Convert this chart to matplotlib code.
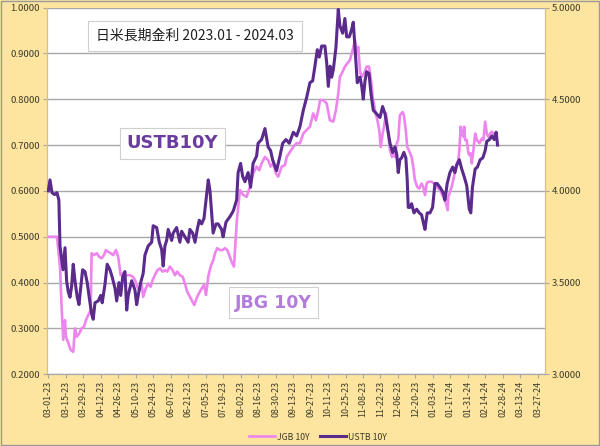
import matplotlib
matplotlib.use('Agg')
import matplotlib.pyplot as plt
import matplotlib.dates as mdates
import numpy as np
import datetime as dt
from matplotlib.patches import Rectangle

plt.rcParams['font.family'] = ['Noto Sans CJK JP', 'DejaVu Sans']

# ---------------- data ----------------
start_date = dt.date(2023, 3, 1)

# days since 2023-03-01, USTB 10Y yield (%)
ustb_days = [0, 1.4, 3, 5, 7, 8.5, 9.4, 11.8, 13.4, 14.7,
             16, 17.4, 18.7, 20, 21.4, 23.2, 24.6, 27.5, 29.4, 31.2,
             32.8, 34.7, 36, 37.4, 40, 42, 43.2, 45.4, 47.2, 49.4,
             51.2, 53.4, 54.8, 56.6, 58, 59.6, 61.4, 62.8, 64, 66.8,
             69.4, 70.8, 72, 74, 76, 77.4, 80, 82.8, 84, 86.8,
             88.9, 90.8, 92, 93.4, 94.8, 96, 98.8, 100, 102.8, 105.4,
             106.8, 109.4, 112, 113.4, 115.6, 117.5, 119.3, 120.9, 122.8, 124.7,
             126.3, 128.1, 129.5, 132, 134.3, 136, 138.8, 140, 142.3, 145.5,
             148.1, 150.8, 152, 154, 155.6, 157.5, 160, 162, 164, 166.8,
             168, 170.8, 173.5, 176, 178, 179.6, 182.8, 185.5, 187.7, 190.3,
             193, 196.2, 198.9, 201.5, 204.2, 206.9, 209.5, 211.7, 213.5, 215.4,
             217, 218.9, 221.5, 222.9, 224.2, 225.6, 226.9, 228.2, 230.3, 232.2,
             233.5, 235.7, 237.5, 238.9, 241, 242.9, 244.2, 245.6, 247.4, 249.6,
             251, 252.2, 253.6, 254.9, 256.8, 258.4, 260.2, 262.9, 265.6, 267.7,
             269.6, 271.4, 273.6, 275.7, 277.6, 279, 280.2, 281.5, 282.9, 284.7,
             286.3, 287.4, 288.2, 289.6, 290.9, 292.8, 295, 297, 298.9, 300.2,
             301.6, 303.4, 305.6, 307.7, 309.6, 311.4, 313.6, 316.2, 317.6, 319.4,
             321.6, 323.8, 325.6, 327, 329.1, 331, 332.9, 335, 337.1, 338.3,
             339.6, 341.8, 343.6, 345.8, 347.9, 349.8, 351.1, 353.2, 355.2, 357, 358.6, 359.7]
ustb_vals = [4.00, 4.06, 3.99, 3.98, 3.99, 3.95, 3.70, 3.57, 3.69, 3.51,
             3.45, 3.42, 3.48, 3.60, 3.51, 3.42, 3.38, 3.57, 3.56, 3.50,
             3.42, 3.33, 3.30, 3.39, 3.40, 3.43, 3.39, 3.49, 3.60, 3.57,
             3.53, 3.47, 3.40, 3.50, 3.43, 3.53, 3.56, 3.35, 3.43, 3.51,
             3.46, 3.38, 3.43, 3.50, 3.55, 3.65, 3.70, 3.72, 3.81, 3.80,
             3.72, 3.68, 3.59, 3.70, 3.73, 3.79, 3.73, 3.77, 3.80, 3.72,
             3.78, 3.75, 3.72, 3.79, 3.77, 3.72, 3.79, 3.84, 3.82, 3.85,
             3.95, 4.06, 4.00, 3.77, 3.82, 3.82, 3.79, 3.75, 3.83, 3.86,
             3.89, 3.95, 4.10, 4.15, 4.08, 4.05, 4.10, 4.02, 4.15, 4.19,
             4.26, 4.28, 4.34, 4.24, 4.22, 4.17, 4.11, 4.19, 4.26, 4.28,
             4.26, 4.32, 4.30, 4.35, 4.44, 4.51, 4.59, 4.60, 4.68, 4.77,
             4.73, 4.79, 4.79, 4.70, 4.57, 4.68, 4.62, 4.66, 4.78, 4.99,
             4.90, 4.86, 4.94, 4.84, 4.84, 4.88, 4.92, 4.78, 4.59, 4.62,
             4.57, 4.50, 4.60, 4.65, 4.64, 4.53, 4.44, 4.42, 4.40, 4.46,
             4.42, 4.35, 4.26, 4.21, 4.24, 4.20, 4.10, 4.17, 4.18, 4.21,
             4.18, 4.06, 3.91, 3.91, 3.93, 3.88, 3.90, 3.88, 3.87, 3.83,
             3.79, 3.88, 3.88, 3.91, 4.04, 4.04, 4.02, 3.99, 3.95, 4.04,
             4.10, 4.13, 4.10, 4.14, 4.17, 4.12, 4.08, 4.03, 3.90, 3.88,
             4.02, 4.12, 4.13, 4.17, 4.18, 4.22, 4.27, 4.28, 4.30, 4.28, 4.32, 4.25]

# days since 2023-03-01, JGB 10Y yield (%)
jgb_days = [0, 7, 9.4, 10.7, 12, 13.4, 14.2, 16, 18, 20,
            21.4, 22.7, 24.8, 26.7, 28.6, 30.2, 32, 34, 34.7, 36.6,
            38.8, 40.8, 42.8, 44.6, 46.2, 48, 50, 52, 54.2, 56,
            58, 59.6, 61.4, 63.3, 65.4, 67.6, 69.4, 71.3, 72.9, 74.8,
            76, 78, 80, 82, 83.6, 85.4, 87.3, 89.4, 91.6, 93.4,
            95.3, 97.4, 99.6, 101.4, 103.3, 105.4, 107.6, 109.4, 111.3, 113.4,
            115.6, 116.9, 118.8, 120.7, 122.8, 124.7, 126.3, 128.1, 130, 132.1,
            133.5, 135.3, 137.5, 139.6, 141.5, 143.3, 144.9, 146.8, 148.7, 150.3,
            151, 152.1, 153.5, 156.1, 158.8, 161.5, 164.1, 166.8, 168.9, 170.8,
            173.5, 176.1, 178, 180.1, 182.3, 184.1, 186.9, 189.5, 190.9, 193.5,
            196.2, 198.9, 201.5, 204.2, 206.9, 209.5, 212.1, 214.3, 216.2, 217.6,
            220.2, 222.9, 225.5, 228.2, 230.3, 232.2, 233.5, 235.7, 237.5, 239.4,
            241.5, 243.7, 245.6, 246.9, 248.2, 249.6, 251, 252.8, 254.9, 256.8,
            258.4, 259.7, 261.6, 263.5, 265, 266.2, 267.7, 268.8, 270.4, 272.2,
            273.6, 275.2, 276.2, 277.6, 279, 280.2, 281.5, 283.7, 284.7, 286.2,
            287.4, 288.7, 290.9, 292.2, 293.5, 295.4, 297, 298.9, 300.2, 301.6,
            303, 304.3, 307, 308.8, 311, 312.2, 313.6, 316.2, 318.4, 319.8,
            320.3, 323, 324.8, 327, 328.3, 329.1, 330.2, 331, 332.4, 333,
            333.7, 335, 336.4, 337.2, 338.3, 339.1, 340.4, 341.8, 343.1, 345.2,
            347.1, 348.4, 349.8, 351.1, 352.3, 353.7, 355, 356.3, 359]
jgb_vals = [0.500, 0.500, 0.435, 0.347, 0.275, 0.318, 0.282, 0.268, 0.253, 0.249,
            0.300, 0.282, 0.289, 0.300, 0.304, 0.318, 0.329, 0.340, 0.464, 0.460,
            0.464, 0.456, 0.453, 0.460, 0.471, 0.467, 0.464, 0.460, 0.471, 0.456,
            0.416, 0.420, 0.416, 0.416, 0.416, 0.413, 0.406, 0.391, 0.384, 0.395,
            0.369, 0.387, 0.398, 0.391, 0.406, 0.416, 0.427, 0.431, 0.424, 0.427,
            0.424, 0.435, 0.427, 0.416, 0.424, 0.416, 0.413, 0.398, 0.380, 0.369,
            0.358, 0.351, 0.366, 0.377, 0.387, 0.395, 0.373, 0.413, 0.435, 0.449,
            0.464, 0.475, 0.471, 0.471, 0.475, 0.471, 0.460, 0.445, 0.435, 0.507,
            0.536, 0.565, 0.602, 0.591, 0.587, 0.609, 0.638, 0.653, 0.645, 0.660,
            0.674, 0.667, 0.653, 0.660, 0.638, 0.631, 0.653, 0.656, 0.674, 0.685,
            0.696, 0.704, 0.704, 0.725, 0.733, 0.740, 0.769, 0.754, 0.776, 0.798,
            0.798, 0.791, 0.754, 0.751, 0.776, 0.813, 0.849, 0.860, 0.871, 0.878,
            0.885, 0.907, 0.929, 0.900, 0.914, 0.860, 0.849, 0.856, 0.871, 0.871,
            0.842, 0.805, 0.776, 0.754, 0.733, 0.696, 0.725, 0.740, 0.769, 0.725,
            0.689, 0.674, 0.689, 0.674, 0.704, 0.711, 0.765, 0.772, 0.765, 0.733,
            0.696, 0.689, 0.674, 0.653, 0.624, 0.609, 0.605, 0.616, 0.609, 0.591,
            0.616, 0.620, 0.620, 0.616, 0.609, 0.605, 0.602, 0.587, 0.573, 0.558,
            0.587, 0.609, 0.631, 0.660, 0.667, 0.689, 0.740, 0.725, 0.718, 0.740,
            0.711, 0.711, 0.682, 0.678, 0.682, 0.660, 0.689, 0.725, 0.711, 0.704,
            0.714, 0.711, 0.751, 0.725, 0.718, 0.725, 0.729, 0.725, 0.725]

left_ticks = [0.2, 0.3, 0.4, 0.5, 0.6, 0.7, 0.8, 0.9, 1.0]
right_ticks = [3.0, 3.5, 4.0, 4.5, 5.0]
n_date_ticks = 29          # every 14 days, 03-01-23 .. 03-27-24
title_text = '日米長期金利 2023.01 - 2024.03'
series_names = ['JGB 10Y', 'USTB 10Y']
# --------------------------------------

W, H = 600, 446
bg = '#FDE49F'
pink = '#EE84EE'
dark = '#5A2A8C'
txt = '#3c3c28'

base = mdates.date2num(start_date)
ustb_x = base + np.array(ustb_days)
jgb_x = base + np.array(jgb_days)

fig = plt.figure(figsize=(W / 100, H / 100), dpi=100)
fig.patch.set_facecolor(bg)
fig.patches.append(Rectangle((0.002, 0.002), 0.996, 0.996, transform=fig.transFigure,
                             fill=False, ec='#9a9a9a', lw=1.0))

ax_l, ax_r, ax_t, ax_b = 47, 545, 7.5, 374.3
ax = fig.add_axes([ax_l / W, 1 - ax_b / H, (ax_r - ax_l) / W, (ax_b - ax_t) / H])
ax.set_facecolor('white')
ax2 = ax.twinx()

l1, = ax.plot(jgb_x, jgb_vals, color=pink, lw=1.9, label=series_names[0], zorder=3)
l2, = ax2.plot(ustb_x, ustb_vals, color=dark, lw=2.2, label=series_names[1], zorder=3)

ax.set_ylim(left_ticks[0], left_ticks[-1])
ax2.set_ylim(right_ticks[0], right_ticks[-1])
ax.set_yticks(left_ticks)
ax.set_yticklabels([f'{v:.4f}' for v in left_ticks])
ax2.set_yticks(right_ticks)
ax2.set_yticklabels([f'{v:.4f}' for v in right_ticks])

tick_pos = base + 14 * np.arange(n_date_ticks)
ax.set_xticks(tick_pos)
ax.set_xticklabels([mdates.num2date(t).strftime('%m-%d-%y') for t in tick_pos],
                   rotation=90, fontsize=6.4, color=txt)
ax.set_xlim(base - 1.0, base + 397.7)

ax.grid(axis='y', color='#a8a8a8', lw=1.0)
ax.grid(axis='x', visible=False)
ax.set_axisbelow(True)

for a in (ax, ax2):
    a.spines['top'].set_visible(False)
    a.spines['left'].set_color('#d6c27e')
    a.spines['right'].set_color('#d6c27e')
    a.spines['bottom'].set_color('#a8a8a8')
ax.tick_params(axis='y', labelsize=6.9, colors='#a8a8a8', labelcolor=txt, length=3, pad=2)
ax2.tick_params(axis='y', labelsize=6.9, colors='#a8a8a8', labelcolor=txt, length=3, pad=2)
ax.tick_params(axis='x', colors='#a8a8a8', labelcolor=txt, length=3, pad=2)

# annotation boxes
fig.text(195 / W, 1 - 36 / H, title_text, ha='center', va='center', fontsize=10,
         color='#202020',
         bbox=dict(boxstyle='square,pad=0.55', fc='white', ec='#cfcfcf', lw=0.8))
fig.text(172.5 / W, 1 - 143.5 / H, 'USTB10Y', ha='center', va='center', fontsize=13,
         fontweight='bold', color='#6A3C9E', family='DejaVu Sans',
         bbox=dict(boxstyle='square,pad=0.35', fc='white', ec='#d0d0d0', lw=0.8))
fig.text(273.5 / W, 1 - 302.5 / H, 'JBG 10Y', ha='center', va='center', fontsize=12.5,
         fontweight='bold', color='#B47CDB', family='DejaVu Sans',
         bbox=dict(boxstyle='square,pad=0.35', fc='white', ec='#d0d0d0', lw=0.8))

leg = fig.legend([l1, l2], series_names, loc='center', bbox_to_anchor=(318 / W, 1 - 437 / H),
                 ncol=2, frameon=False, fontsize=6.3, handlelength=3.0, columnspacing=1.2,
                 handletextpad=0.2)
for t in leg.get_texts():
    t.set_color(txt)

fig.savefig('out.png', dpi=100, facecolor=bg)
